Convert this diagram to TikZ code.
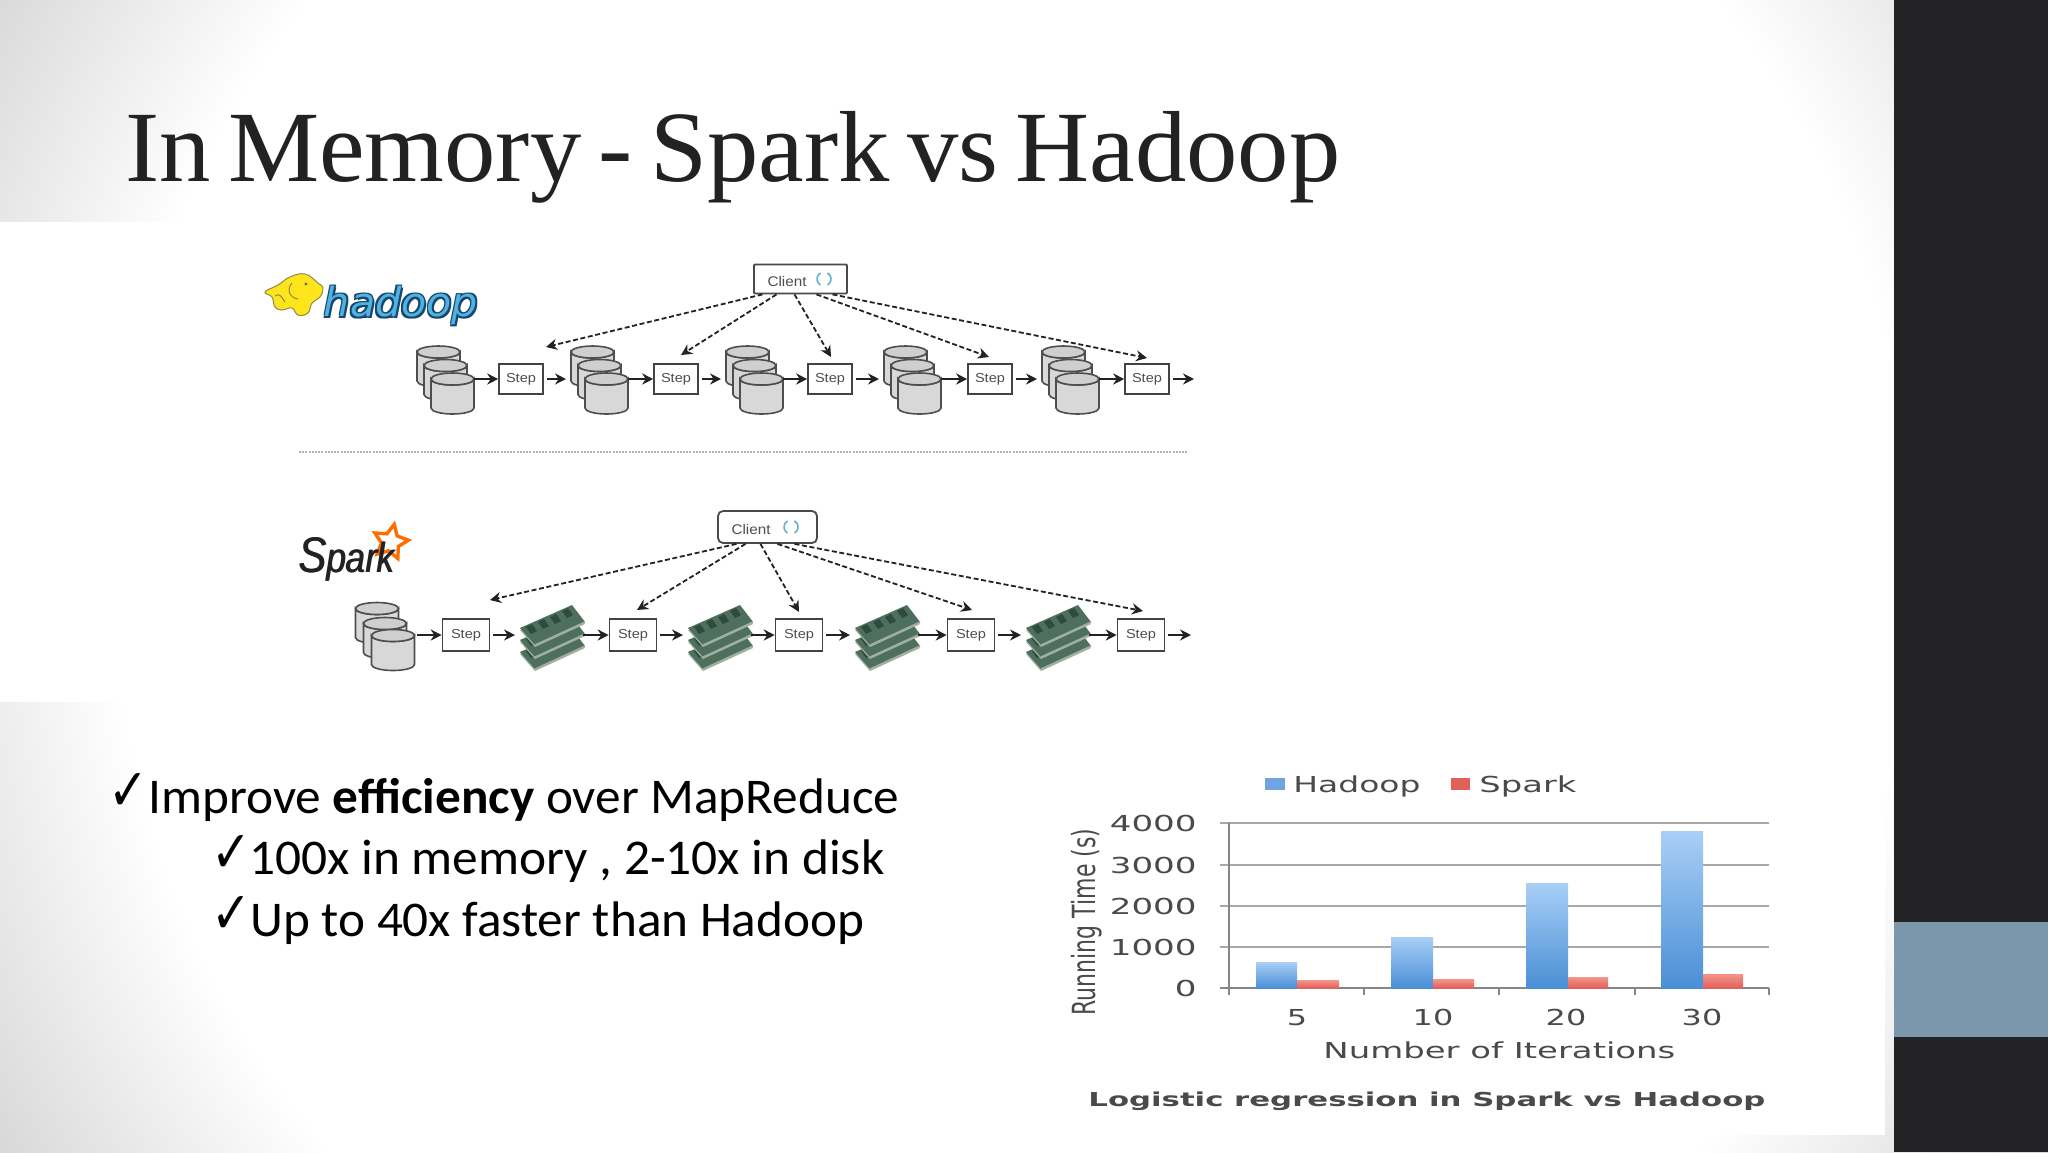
\documentclass[tikz,border=0pt]{standalone}
\usepackage{fontspec}
\usepackage{graphicx}
\usetikzlibrary{arrows.meta,shapes.geometric,calc}
\setmainfont{Liberation Sans}
\newfontfamily\titlefont{Liberation Serif}
\newfontfamily\bodyfont{Carlito}
\newfontfamily\chartfont{DejaVu Sans}
\newfontfamily\markfont{DejaVu Sans}
\newcommand\fitw[2]{\resizebox{#1}{\height}{#2}}
\newcommand\chx[1]{\scalebox{1.45}[1]{#1}}
\definecolor{panel}{HTML}{232325}
\definecolor{accent}{HTML}{7B97AC}
\definecolor{ink}{HTML}{222222}
\definecolor{chartink}{HTML}{4A4A4A}
\definecolor{gridc}{HTML}{A8A8A8}
\definecolor{soft}{HTML}{D8D8D8}
\definecolor{bartop}{HTML}{A9CFF6}
\definecolor{barbot}{HTML}{4A8FD6}
\definecolor{redtop}{HTML}{F4948A}
\definecolor{redbot}{HTML}{E0605A}
\definecolor{boardc}{HTML}{4F6F5E}
\definecolor{chipc}{HTML}{2F4A3E}
\definecolor{edgec}{HTML}{9FB0A0}
\definecolor{hfill}{HTML}{4FB2E0}
\definecolor{hline}{HTML}{17466E}
\pgfdeclareradialshading{slidebg}{\pgfpoint{0bp}{0bp}}{color(0bp)=(white); color(17.3bp)=(white); color(22.5bp)=(soft); color(50bp)=(soft)}
\tikzset{
  txt/.style={inner sep=0pt,anchor=base west},
  conn/.style={-{Stealth[length=5.5pt,width=5.5pt]},line width=1.1pt,color=ink},
  dconn/.style={-{Stealth[length=5.5pt,width=5.5pt]},line width=.9pt,color=ink,dash pattern=on 2.5pt off 1.3pt},
  stepbox/.style={draw=ink!85,fill=white,line width=.8pt,minimum width=22pt,minimum height=15pt,inner sep=0pt,font=\fontsize{6.5}{7}\selectfont,text=ink!80},
  sstepbox/.style={stepbox,minimum width=23.5pt,minimum height=16pt},
  clientbox/.style={draw=chartink,fill=white,line width=.9pt,inner sep=0pt,minimum width=47pt,minimum height=15pt,rounded corners=1pt},
  disk/.pic={
    \draw[fill=soft,draw=ink!80,line width=.8pt] (-21.5,-14.5) -- (-21.5,14.5) arc[start angle=180,end angle=0,x radius=21.5,y radius=6] -- (21.5,-14.5) arc[start angle=0,end angle=180,x radius=21.5,y radius=6] -- cycle;
    \draw[fill=gray!38,draw=ink!80,line width=.8pt] (0,-14.5) ellipse [x radius=21.5,y radius=6];
  },
  ramboard/.pic={
    \fill[edgec] (0,2) -- (15,19) -- (65,-4) -- (52,-21) -- cycle;
    \fill[boardc] (0,0) -- (52,-23) -- (65,-6) -- (15,17) -- cycle;
    \fill[chipc] (6,-1) -- (12,-4) -- (17,3) -- (11,6) -- cycle;
    \fill[chipc] (18,-6) -- (24,-9) -- (29,-2) -- (23,1) -- cycle;
    \fill[chipc] (30,-11) -- (36,-14) -- (41,-7) -- (35,-4) -- cycle;
    \fill[chipc] (42,-17) -- (48,-20) -- (53,-13) -- (47,-10) -- cycle;
    \draw[edgec,line width=.7pt] (15,17) -- (65,-6);
  },
  ram/.pic={
    \pic at (0,24) {ramboard};
    \pic at (0,12) {ramboard};
    \pic at (0,0) {ramboard};
  },
  syncicon/.style={line width=.8pt,color=cyan!45!teal!70!white}
}
\newcommand\hadooptext{\chartfont\itshape\fontsize{20}{22}\selectfont\fitw{77pt}{hadoop}}
\newcommand\sparktext{\itshape\fitw{48pt}{\fontsize{25}{27}\selectfont S\fontsize{21}{23}\selectfont park}}
\begin{document}
\begin{tikzpicture}[x=0.5pt,y=-0.5pt]
\useasboundingbox (0,0) rectangle (2048,1152);
% background
\begin{scope}
\clip (0,0) rectangle (2048,1152);
\shade[shading=slidebg] (1013,563) circle [radius=650pt];
\end{scope}
\fill[white] (0,222) rectangle (1300,702);
\fill[white] (1040,750) rectangle (1885,1135);
\fill[panel] (1894,0) rectangle (2048,1152);
\fill[accent] (1894,922) rectangle (2048,1037);
% title
\node[txt,text=ink] (title) at (125,181) {\titlefont\fontsize{50.5}{55}\selectfont\spaceskip=.17em\relax\fitw{607.5pt}{In Memory - Spark vs Hadoop}};
% hadoop logo
\draw[fill=yellow!85!orange!90!white,draw=yellow!50!black,line width=.5pt] plot[smooth cycle,tension=.7] coordinates {(265,292) (278,285) (290,277) (305,274) (318,283) (323,288) (320,297) (312,303) (308,313) (298,315) (292,308) (282,310) (275,307) (272,297)};
\draw[yellow!50!black,line width=.5pt] (292,283) .. controls (286,290) and (290,298) .. (298,299);
\draw[yellow!50!black,line width=.5pt] (275,296) .. controls (280,292) and (282,298) .. (285,302);
\fill[yellow!35!black] (306,284) circle [radius=1.6];
\node[txt,text=hline] (hlo1) at (325.5,318.5) {\hadooptext};
\node[txt,text=hline] (hlo2) at (322,315) {\hadooptext};
\node[txt,text=hline] (hlo3) at (325,315) {\hadooptext};
\node[txt,text=hline] (hlo4) at (322,318) {\hadooptext};
\node[txt,text=hfill] (hlogo) at (323.5,316.5) {\hadooptext};
% hadoop client
\node[clientbox,minimum width=46.5pt,minimum height=14.5pt,rounded corners=.5pt] (hc) at (800.5,279) {};
\node[inner sep=0pt,text=ink!80] (hct) at (787,281) {\fontsize{7}{8}\selectfont\fitw{19.5pt}{Client}};
\draw[syncicon] (820.5,285) arc[start angle=120,end angle=240,radius=7];
\draw[syncicon] (827.5,285) arc[start angle=60,end angle=-60,radius=7];
% hadoop row
\foreach \i/\x in {1/417,2/571,3/726,4/884,5/1042}{
  \pic at (\x+21.5,366.5) {disk};
  \pic at (\x+28.5,380) {disk};
  \pic at (\x+35.5,393.5) {disk};
  \coordinate (h\i in) at (\x-5,379);
  \coordinate (h\i out) at (\x+57,379);
}
\coordinate (hend) at (1194,379);
\foreach \i/\x in {1/521,2/676,3/830,4/990,5/1147}{
  \node[stepbox] (hs\i) at (\x,379) {\raisebox{-1pt}{\fitw{15pt}{Step}}};
}
\foreach \i/\j in {1/2,2/3,3/4,4/5}{
  \draw[conn,shorten <=1.5pt] (hs\i.east) -- (h\j in);
}
\draw[conn,shorten <=1.5pt] (hs5.east) -- (hend);
\foreach \i in {1,...,5}{
  \draw[conn] (h\i out) -- (hs\i.west);
}
\coordinate (ht1) at (546,347);
\coordinate (ht2) at (681,355);
\coordinate (ht3) at (831,357);
\coordinate (ht4) at (989,357);
\coordinate (ht5) at (1147,358);
\draw[dconn] ([xshift=-19pt]hc.south) -- (ht1);
\draw[dconn] ([xshift=-12pt]hc.south) -- (ht2);
\draw[dconn] ([xshift=-3pt]hc.south) -- (ht3);
\draw[dconn] ([xshift=8pt]hc.south) -- (ht4);
\draw[dconn] ([xshift=16pt]hc.south) -- (ht5);
% separator
\coordinate (sepl) at (299,452);
\coordinate (sepr) at (1187,452);
\draw[gray!60,line width=1pt,dash pattern=on 1pt off .6pt] (sepl) -- (sepr);
% spark logo
\node[shape=star,star points=5,star point ratio=2,draw=orange!85!red,line width=1.7pt,fill=white,minimum size=18pt,inner sep=0pt,rotate=-12] (sstar) at (390.5,542) {};
\node[txt,text=ink] (slogob) at (299,572) {\sparktext};
\node[txt,text=ink] (slogo) at (298,572) {\sparktext};
% spark client
\node[clientbox,minimum width=49.5pt,minimum height=16pt,rounded corners=2.5pt] (sc) at (767.5,527) {};
\node[inner sep=0pt,text=ink!80] (sct) at (751,529) {\fontsize{7}{8}\selectfont\fitw{19.5pt}{Client}};
\draw[syncicon] (787.5,533) arc[start angle=120,end angle=240,radius=7];
\draw[syncicon] (794.5,533) arc[start angle=60,end angle=-60,radius=7];
% spark row
\pic at (377,623) {disk};
\pic at (385,638) {disk};
\pic at (393,650) {disk};
\coordinate (sout) at (417,635);
\foreach \i/\x in {1/520,2/688,3/855,4/1026}{
  \pic at (\x,628) {ram};
  \coordinate (r\i in) at (\x-5,635);
  \coordinate (r\i out) at (\x+63,635);
}
\coordinate (send) at (1191,635);
\foreach \i/\x in {1/466,2/633,3/799,4/971,5/1141}{
  \node[sstepbox] (ss\i) at (\x,635) {\raisebox{-1pt}{\fitw{15pt}{Step}}};
}
\draw[conn] (sout) -- (ss1.west);
\foreach \i/\j in {1/2,2/3,3/4,4/5}{
  \draw[conn] (r\i out) -- (ss\j.west);
}
\foreach \i in {1,...,4}{
  \draw[conn,shorten <=1.5pt] (ss\i.east) -- (r\i in);
}
\draw[conn,shorten <=1.5pt] (ss5.east) -- (send);
\coordinate (st1) at (490,600);
\coordinate (st2) at (637,610);
\coordinate (st3) at (799,612);
\coordinate (st4) at (972,610);
\coordinate (st5) at (1143,611);
\draw[dconn] ([xshift=-15.5pt]sc.south) -- (st1);
\draw[dconn] ([xshift=-11pt]sc.south) -- (st2);
\draw[dconn] ([xshift=-3.5pt]sc.south) -- (st3);
\draw[dconn] ([xshift=5pt]sc.south) -- (st4);
\draw[dconn] ([xshift=13.5pt]sc.south) -- (st5);
% bullets
\node[txt] (b1m) at (108,810) {\resizebox{20pt}{18.5pt}{\markfont ✓}};
\node[txt] (b2m) at (211,872) {\resizebox{20pt}{18.5pt}{\markfont ✓}};
\node[txt] (b3m) at (211,933) {\resizebox{20pt}{18.5pt}{\markfont ✓}};
\node[txt] (b1) at (148,813) {\bodyfont\fontsize{25}{30}\selectfont\fitw{375.5pt}{Improve \textbf{efficiency} over MapReduce}};
\node[txt] (b2) at (249,874) {\bodyfont\fontsize{25}{30}\selectfont\fitw{317.5pt}{100x in memory , 2-10x in disk}};
\node[txt] (b3) at (250,936) {\bodyfont\fontsize{25}{30}\selectfont\fitw{307pt}{Up to 40x faster than Hadoop}};
% chart grid
\foreach \y in {823,865,906,947}{
  \draw[gridc,line width=.8pt] (1220,\y) -- (1769,\y);
}
\draw[gridc!80!black,line width=.9pt] (1229,823) -- (1229,995);
\draw[gridc!80!black,line width=.9pt] (1220,988) -- (1769,988);
\foreach \x in {1364,1499,1635,1769}{
  \draw[gridc!80!black,line width=.9pt] (\x,988) -- (\x,995);
}
% chart bars
\foreach \a/\b/\t in {1256/1297/962,1391/1433/937,1526/1568/883,1661/1703/831}{
  \shade[top color=bartop,bottom color=barbot] (\a,\t) rectangle (\b,988);
}
\foreach \a/\b/\t in {1297/1339/980,1433/1474/979,1568/1608/977,1703/1743/974}{
  \shade[top color=redtop,bottom color=redbot] (\a,\t) rectangle (\b,988);
}
% legend
\fill[barbot!80!white] (1265,778) rectangle (1285,790);
\fill[redbot] (1451,778) rectangle (1470,790);
\begin{scope}[every node/.append style={text=chartink,font=\chartfont\fontsize{11}{13}\selectfont}]
\node[txt] (lh) at (1293,792) {\fitw{63.5pt}{Hadoop}};
\node[txt] (ls) at (1479,792) {\fitw{48.5pt}{Spark}};
\foreach \v/\y in {4000/831,3000/873,2000/914,1000/955,0/996}{
  \node[inner sep=0pt,anchor=base east] (yl\v) at (1197,\y) {\scalebox{1.55}[1]{\v}};
}
\foreach \v/\x in {5/1297,10/1433,20/1566,30/1702}{
  \node[inner sep=0pt,anchor=base] (xl\v) at (\x,1025) {\chx{\v}};
}
\node[txt] (xt) at (1323,1058) {\fitw{176pt}{Number of Iterations}};
\node[inner sep=0pt] (yt) at (1087,922) {\chx{\rotatebox{90}{Running Time (s)}}};
\node[txt] (cap) at (1088,1106) {\fontsize{9.6}{12}\selectfont\bfseries\fitw{338.5pt}{Logistic regression in Spark vs Hadoop}};
\end{scope}
\end{tikzpicture}
\end{document}
